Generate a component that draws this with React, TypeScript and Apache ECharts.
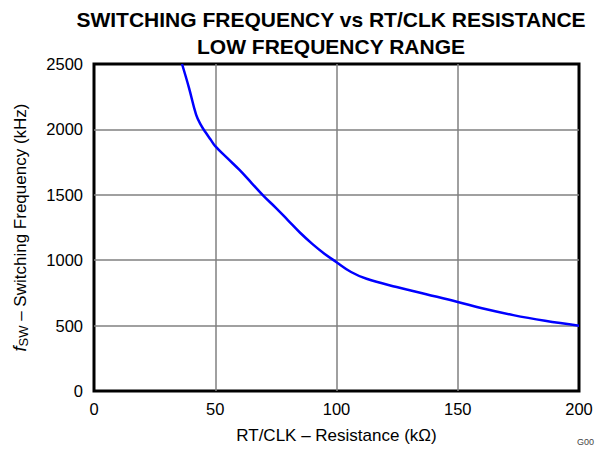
import React, { useEffect, useRef } from "react";
import * as echarts from "echarts";

const resistance = [36.3, 39.2, 42.1, 44, 46, 48, 50, 55, 60, 65, 70, 75, 80, 85, 90, 95, 100, 106, 112.4, 124.8, 137, 150, 160, 172.9, 186, 200];
const frequency = [2500, 2316, 2113, 2036, 1978, 1925, 1872, 1780, 1690, 1590, 1490, 1400, 1305, 1210, 1125, 1050, 985, 910, 858, 795, 740, 681, 632, 580, 537, 499];

const xTicks = [0, 50, 100, 150, 200];
const yTicks = [0, 500, 1000, 1500, 2000, 2500];

const FONT = "Liberation Sans, Arial, sans-serif";

export default function App() {
  const ref = useRef<HTMLDivElement>(null);
  useEffect(() => {
    if (!ref.current) return;
    const chart = echarts.init(ref.current, null, { renderer: "svg" });
    const data = resistance.map((r, i) => [r, frequency[i]]);
    chart.setOption({
      animation: false,
      backgroundColor: "#ffffff",
      textStyle: { fontFamily: FONT },
      title: {
        text: "SWITCHING FREQUENCY vs RT/CLK RESISTANCE\nLOW FREQUENCY RANGE",
        left: 326,
        top: 1,
        textAlign: "center",
        textStyle: { fontFamily: FONT, fontSize: 21, fontWeight: "bold", color: "#000", lineHeight: 27 },
      },
      grid: {
        left: 94,
        right: 18,
        top: 64,
        bottom: 56,
        show: true,
        borderColor: "#000",
        borderWidth: 3,
        backgroundColor: "transparent",
      },
      xAxis: {
        type: "value",
        min: xTicks[0],
        max: xTicks[xTicks.length - 1],
        interval: 50,
        name: "RT/CLK – Resistance (kΩ)",
        nameLocation: "middle",
        nameGap: 36,
        nameTextStyle: { fontFamily: FONT, fontSize: 17, color: "#000" },
        axisLine: { show: false },
        axisTick: { show: false },
        axisLabel: { fontFamily: FONT, fontSize: 16.5, color: "#000", margin: 9, formatter: (v: number) => String(v) },
        splitLine: { show: true, showMinLine: false, showMaxLine: false, lineStyle: { color: "#808080", width: 1.5 } },
      },
      yAxis: {
        type: "value",
        min: yTicks[0],
        max: yTicks[yTicks.length - 1],
        interval: 500,
        name: "{i|f}{s|SW} – Switching Frequency (kHz)",
        nameLocation: "middle",
        nameGap: 64,
        nameRotate: 90,
        nameTextStyle: {
          fontFamily: FONT,
          fontSize: 17,
          color: "#000",
          rich: {
            i: { fontFamily: FONT, fontSize: 18, fontStyle: "italic", color: "#000" },
            s: { fontFamily: FONT, fontSize: 13, color: "#000", verticalAlign: "bottom", padding: [7, 0, 0, 0] },
          },
        },
        axisLine: { show: false },
        axisTick: { show: false },
        axisLabel: { fontFamily: FONT, fontSize: 16.5, color: "#000", margin: 11, formatter: (v: number) => String(v) },
        splitLine: { show: true, showMinLine: false, showMaxLine: false, lineStyle: { color: "#808080", width: 1.5 } },
      },
      graphic: [
        {
          type: "text",
          left: 577,
          top: 437,
          style: { text: "G00", font: "9px " + FONT, fill: "#444" },
        },
      ],
      series: [
        {
          type: "line",
          data,
          smooth: 0.4,
          showSymbol: false,
          lineStyle: { color: "#0000ff", width: 2.5 },
          clip: true,
          z: 3,
        },
      ],
    });
    return () => chart.dispose();
  }, []);
  return (
    <div
      ref={ref}
      style={{ position: "fixed", left: 0, top: 0, width: 597, height: 449 }}
    />
  );
}
